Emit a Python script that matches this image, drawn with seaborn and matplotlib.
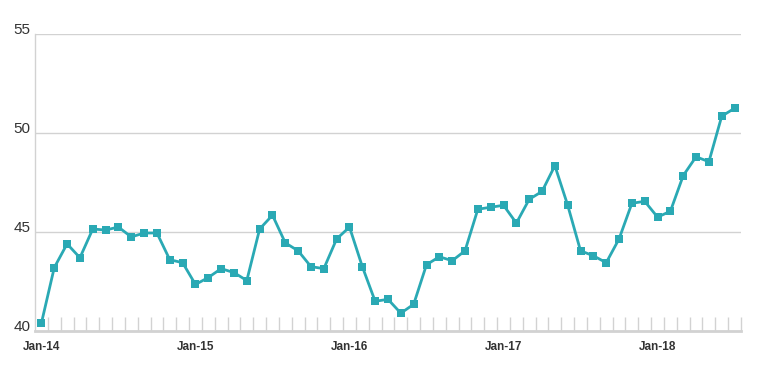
import numpy as np
import pandas as pd
import matplotlib
matplotlib.use("Agg")
import matplotlib.pyplot as plt
import seaborn as sns

# monthly index values, Jan-14 .. Jul-18
values = [40.4, 43.2, 44.4, 43.7, 45.15, 45.1, 45.25, 44.75, 44.95, 44.95,
          43.6, 43.45, 42.35, 42.7, 43.15, 42.95, 42.55, 45.15, 45.85, 44.45,
          44.05, 43.25, 43.15, 44.65, 45.25, 43.25, 41.5, 41.6, 40.9, 41.35,
          43.35, 43.75, 43.55, 44.05, 46.15, 46.25, 46.35, 45.45, 46.65, 47.05,
          48.35, 46.35, 44.05, 43.8, 43.45, 44.65, 46.45, 46.55, 45.75, 46.05,
          47.85, 48.8, 48.55, 50.85, 51.25]
year_labels = ["Jan-14", "Jan-15", "Jan-16", "Jan-17", "Jan-18"]
y_ticks = [40, 45, 50, 55]

teal = "#2aa9b4"
grey = "#d2d2d2"

sns.set_style("white")
plt.rcParams["font.family"] = ["Liberation Sans", "DejaVu Sans"]

df = pd.DataFrame({"month": np.arange(len(values)), "value": values})

fig = plt.figure(figsize=(7.71, 3.83), dpi=100)
ax = fig.add_axes([35 / 771, 52 / 383, 706 / 771, 297 / 383])

sns.lineplot(data=df, x="month", y="value", ax=ax, color=teal, linewidth=2,
             marker="s", markersize=5.8, markeredgewidth=0, zorder=3)

n = len(values)
ax.set_xlim(-0.5, n - 0.5)
ax.set_ylim(40, 55)

# gridlines for 45/50/55
for v in y_ticks[1:]:
    ax.axhline(v, color=grey, linewidth=1, zorder=1)

ax.set_yticks(y_ticks)
ax.set_yticklabels([str(v) for v in y_ticks], fontsize=11, color="#333333")
for lab in ax.get_yticklabels():
    lab.set_verticalalignment("baseline")
ax.tick_params(axis="y", length=0, pad=3)

# year labels under January points, month ticks between points
ax.set_xticks(np.arange(0, n, 12))
ax.set_xticklabels(year_labels, fontsize=8.5, fontweight="bold", color="#333333")
ax.set_xticks(np.arange(0.5, n, 1), minor=True)
ax.tick_params(axis="x", which="major", length=0, pad=7)
ax.tick_params(axis="x", which="minor", direction="in", length=10, width=1,
               color=grey, bottom=True)

ax.set_xlabel("")
ax.set_ylabel("")

for s in ["top", "right"]:
    ax.spines[s].set_visible(False)
ax.spines["left"].set_color(grey)
ax.spines["left"].set_linewidth(1)
ax.spines["bottom"].set_color(grey)
ax.spines["bottom"].set_linewidth(2)

plt.savefig("out.png", dpi=100)
